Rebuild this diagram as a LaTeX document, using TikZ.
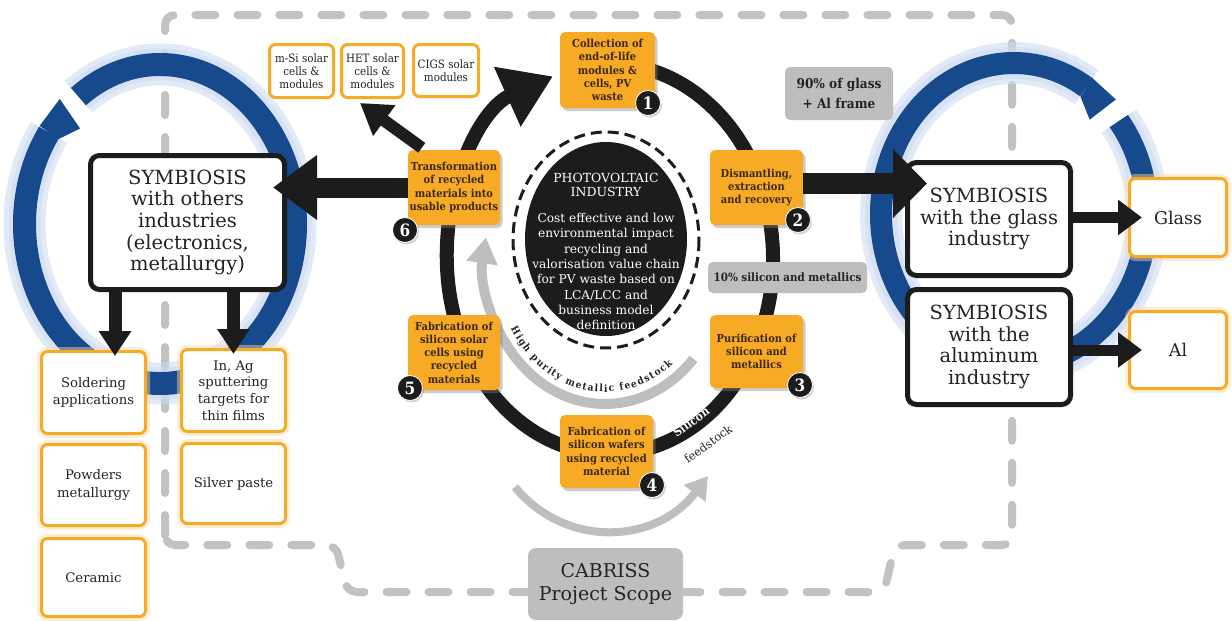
\documentclass[tikz,border=0pt]{standalone}
\usepackage{fontspec}
\setmainfont{DejaVu Serif Condensed}
\newfontfamily\wideserif{DejaVu Serif}
\usetikzlibrary{arrows.meta,shadows,decorations.text,calc}
\definecolor{myorange}{RGB}{247,170,38}
\definecolor{orangetext}{RGB}{60,40,15}
\definecolor{ringblack}{RGB}{28,28,28}
\definecolor{myblue}{RGB}{22,74,140}
\definecolor{glowblue}{RGB}{205,218,242}
\definecolor{dashgray}{RGB}{194,194,194}
\definecolor{boxgray}{RGB}{190,190,190}
\definecolor{darktext}{RGB}{35,35,35}
\newcommand\myfs[2]{\fontsize{#1}{#2}\selectfont}
\pgfdeclarelayer{bg}
\pgfsetlayers{bg,main}
\tikzset{
  obox/.style={rounded corners=5pt, fill=myorange, text=orangetext, font=\bfseries\myfs{11}{13.3}, align=center, inner sep=1pt, drop shadow={shadow xshift=2.5pt, shadow yshift=-3pt, opacity=0.4}},
  badge/.style={circle, fill=ringblack, draw=white, line width=0.8pt, text=white, font=\bfseries\myfs{17}{17}, minimum size=25pt, inner sep=0pt, drop shadow={shadow xshift=1.5pt, shadow yshift=-2pt, opacity=0.35}},
  wbox/.style={rounded corners=6pt, fill=white, draw=myorange, line width=3pt, text=darktext, align=center, inner sep=1pt},
  wglow/.style={preaction={draw=myorange!40, line width=9pt, opacity=0.45}},
  symbox/.style={rounded corners=9pt, fill=white, draw=ringblack, line width=5pt, text=darktext, align=center, font=\wideserif\myfs{19.5}{21.7}, inner sep=1pt},
  gbox/.style={rounded corners=5pt, fill=boxgray, text=darktext, align=center, inner sep=1pt},
  blueglow/.style={glowblue, line width=#1, opacity=0.55},
}
\begin{document}
\begin{tikzpicture}[x=1pt,y=-1pt]
\useasboundingbox (0,0) rectangle (1232,621);
\begin{pgfonlayer}{bg}
\fill[white] (0,0) rectangle (1232,621);
% project scope dashed boundary
\draw[dashgray, line width=8pt, line cap=round, dash pattern=on 20pt off 22pt, rounded corners=10pt]
  (165,545) -- (165,15) -- (1012,15) -- (1012,545) -- (895,545) -- (884,592) -- (347,592) -- (336,545) -- cycle;
% left blue ring
\draw[blueglow=42pt] ($(160,224)+(233:135.5 and 159.5)$) arc[start angle=233, end angle=575, x radius=135.5, y radius=159.5];
\draw[blueglow=32pt] ($(160,224)+(233:135.5 and 159.5)$) arc[start angle=233, end angle=575, x radius=135.5, y radius=159.5];
\draw[myblue, line width=23pt] ($(160,224)+(233:135.5 and 159.5)$) arc[start angle=233, end angle=575, x radius=135.5, y radius=159.5];
\fill[myblue] ($(160,224)+(215:147 and 171)$) -- ($(160,224)+(227:147 and 171)$) -- ($(160,224)+(225:113 and 135)$) -- ($(160,224)+(215:124 and 148)$) -- cycle;
% right blue ring
\draw[blueglow=42pt] ($(1014,214)+(322:133 and 151)$) arc[start angle=322, end angle=663, x radius=133, y radius=151];
\draw[blueglow=32pt] ($(1014,214)+(322:133 and 151)$) arc[start angle=322, end angle=663, x radius=133, y radius=151];
\draw[myblue, line width=22pt] ($(1014,214)+(322:133 and 151)$) arc[start angle=322, end angle=663, x radius=133, y radius=151];
\fill[myblue] ($(1014,214)+(303:144 and 162)$) -- ($(1014,214)+(315:144 and 162)$) -- ($(1014,214)+(313:111 and 129)$) -- ($(1014,214)+(303:122 and 140)$) -- cycle;
% main black ring
\draw[ringblack, line width=14pt, -{Triangle[length=50pt,width=62pt]}] ($(610,259)+(255:163 and 195)$) arc[start angle=255, end angle=609.5, x radius=163, y radius=195];
% gray feedstock arcs
\draw[boxgray, line width=10pt, -{Triangle[length=26pt,width=30pt]}] ($(605,262)+(43:121 and 142)$) arc[start angle=43, end angle=190, x radius=121, y radius=142];
\path[decorate, decoration={text along path, text={|\bfseries\myfs{10}{10}|High purity metallic feedstock}, text align={fit to path}, text color=darktext}]
  ($(605,262)+(149:110 and 130)$) arc[start angle=149, end angle=52, x radius=110, y radius=130];
\draw[boxgray, line width=8pt, -{Triangle[length=22pt,width=26pt]}] (515,487) .. controls (565,548) and (655,545) .. (708,476);
\end{pgfonlayer}
% central industry circle
\draw[ringblack, line width=3pt, dash pattern=on 11pt off 6pt] (606,240) ellipse[x radius=93, y radius=108];
\fill[ringblack] (606,239) ellipse[x radius=81, y radius=97];
\node[text=white, font=\wideserif\myfs{12.5}{14.5}, align=center] (pvt) at (606,185) {PHOTOVOLTAIC\\INDUSTRY};
\node[text=white, font=\wideserif\myfs{12.2}{15.3}, align=center] (pvb) at (606,271.5) {Cost effective and low\\environmental impact\\recycling and\\valorisation value chain\\for PV waste based on\\LCA/LCC and\\business model\\definition};
% process boxes
\node[obox, minimum width=95pt, minimum height=76pt] (b1) at (607.5,70) {Collection of\\end-of-life\\modules \&\\cells, PV\\waste};
\node[obox, minimum width=93pt, minimum height=75pt] (b2) at (756.5,187.5) {Dismantling,\\extraction\\and recovery};
\node[obox, minimum width=93pt, minimum height=73pt] (b3) at (756.5,351.5) {Purification of\\silicon and\\metallics};
\node[obox, minimum width=93pt, minimum height=73pt] (b4) at (606.5,451.5) {Fabrication of\\silicon wafers\\using recycled\\material};
\node[obox, minimum width=92pt, minimum height=75pt] (b5) at (454,352.5) {Fabrication of\\silicon solar\\cells using\\recycled\\materials};
\node[obox, minimum width=92pt, minimum height=75pt] (b6) at (454,187.5) {Transformation\\of recycled\\materials into\\usable products};
% top product boxes
\node[wbox, font=\myfs{11.5}{13}, minimum width=64pt, minimum height=53pt] (msi) at (301.5,71) {m-Si solar\\cells \&\\modules};
\node[wbox, font=\myfs{11.5}{13}, minimum width=62pt, minimum height=53pt] (het) at (372.5,71) {HET solar\\cells \&\\modules};
\node[wbox, font=\myfs{11.5}{13}, minimum width=65pt, minimum height=52pt] (cigs) at (446,70.5) {CIGS solar\\modules};
% symbiosis boxes
\node[symbox, minimum width=194pt, minimum height=134pt] (symo) at (187.5,222.5) {SYMBIOSIS\\with others\\industries\\(electronics,\\metallurgy)};
\node[symbox, minimum width=163pt, minimum height=113pt] (symg) at (989,219) {SYMBIOSIS\\with the glass\\industry};
\node[symbox, minimum width=163pt, minimum height=115pt] (syma) at (989,347) {SYMBIOSIS\\with the\\aluminum\\industry};
\node[wbox, wglow, font=\wideserif\myfs{17.5}{20}, minimum width=97pt, minimum height=78pt] (glass) at (1178,217.5) {Glass};
\node[wbox, wglow, font=\wideserif\myfs{17.5}{20}, minimum width=97pt, minimum height=77pt] (al) at (1178,350) {Al};
% application boxes
\node[wbox, wglow, font=\wideserif\myfs{13.2}{17.5}, minimum width=104pt, minimum height=82pt] (sold) at (93.5,392.5) {Soldering\\applications};
\node[wbox, wglow, font=\wideserif\myfs{13.2}{17.5}, minimum width=104pt, minimum height=81pt] (powd) at (93.5,485) {Powders\\metallurgy};
\node[wbox, wglow, font=\wideserif\myfs{13.2}{17.5}, minimum width=104pt, minimum height=78pt] (cera) at (93.5,577.5) {Ceramic};
\node[wbox, wglow, font=\wideserif\myfs{13.2}{16.7}, minimum width=104pt, minimum height=82pt] (inag) at (233.5,390.5) {In, Ag\\sputtering\\targets for\\thin films};
\node[wbox, wglow, font=\wideserif\myfs{13.2}{17.5}, minimum width=104pt, minimum height=80pt] (silv) at (233.5,483.5) {Silver paste};
% grey labels
\node[gbox, font=\bfseries\myfs{11.5}{13}, minimum width=159pt, minimum height=31pt] (pct10) at (787.5,277.5) {10\% silicon and metallics};
\node[gbox, font=\bfseries\myfs{13.5}{20}, minimum width=108pt, minimum height=53pt] (pct90) at (839,93.5) {90\% of glass\\+ Al frame};
\node[gbox, rounded corners=8pt, font=\wideserif\myfs{19}{23}, minimum width=155pt, minimum height=72pt] (cab) at (605.5,584) {CABRISS\\Project Scope};
% arrows
\draw[ringblack, line width=20pt, -{Triangle[length=44pt,width=62pt]}] (b6.west) -- ($(b6.west -| symo.east)+(-14,0)$);
\draw[ringblack, line width=12pt, -{Triangle[length=30pt,width=36pt]}] ($(b6.north west)+(14,-2)$) -- ($(het.south west)+(20,4)$);
\draw[ringblack, line width=21pt, -{Triangle[length=34pt,width=67pt]}] ($(b2.east)+(0,-4)$) -- ($(b2.east -| symg.west)+(22,-4)$);
\draw[ringblack, line width=11pt, -{Triangle[length=24pt,width=34pt]}] (symg.east |- glass.west) -- ($(glass.west)+(14,0)$);
\draw[ringblack, line width=11pt, -{Triangle[length=24pt,width=34pt]}] (syma.east |- al.west) -- ($(al.west)+(14,0)$);
\coordinate (dl) at (115,0);
\draw[ringblack, line width=13pt, -{Triangle[length=25pt,width=31pt]}, shorten >=-6pt] (symo.south -| dl) -- (sold.north -| dl);
\draw[ringblack, line width=13pt, -{Triangle[length=25pt,width=31pt]}, shorten >=-6pt] (symo.south -| inag.north) -- (inag.north);
% badges
\node[badge] (n1) at (648,103) {1};
\node[badge] (n2) at (798,220) {2};
\node[badge] (n3) at (800,385) {3};
\node[badge] (n4) at (652,485) {4};
\node[badge] (n5) at (410,388) {5};
\node[badge] (n6) at (405,230) {6};
% silicon feedstock label
\node[text=white, font=\bfseries\myfs{12}{12}, rotate=36, inner sep=0pt] (sil) at (691,422) {Silicon};
\node[text=darktext, font=\wideserif\myfs{11.5}{11.5}, rotate=36, inner sep=0pt] (feed) at (708,444) {feedstock};
\end{tikzpicture}
\end{document}
